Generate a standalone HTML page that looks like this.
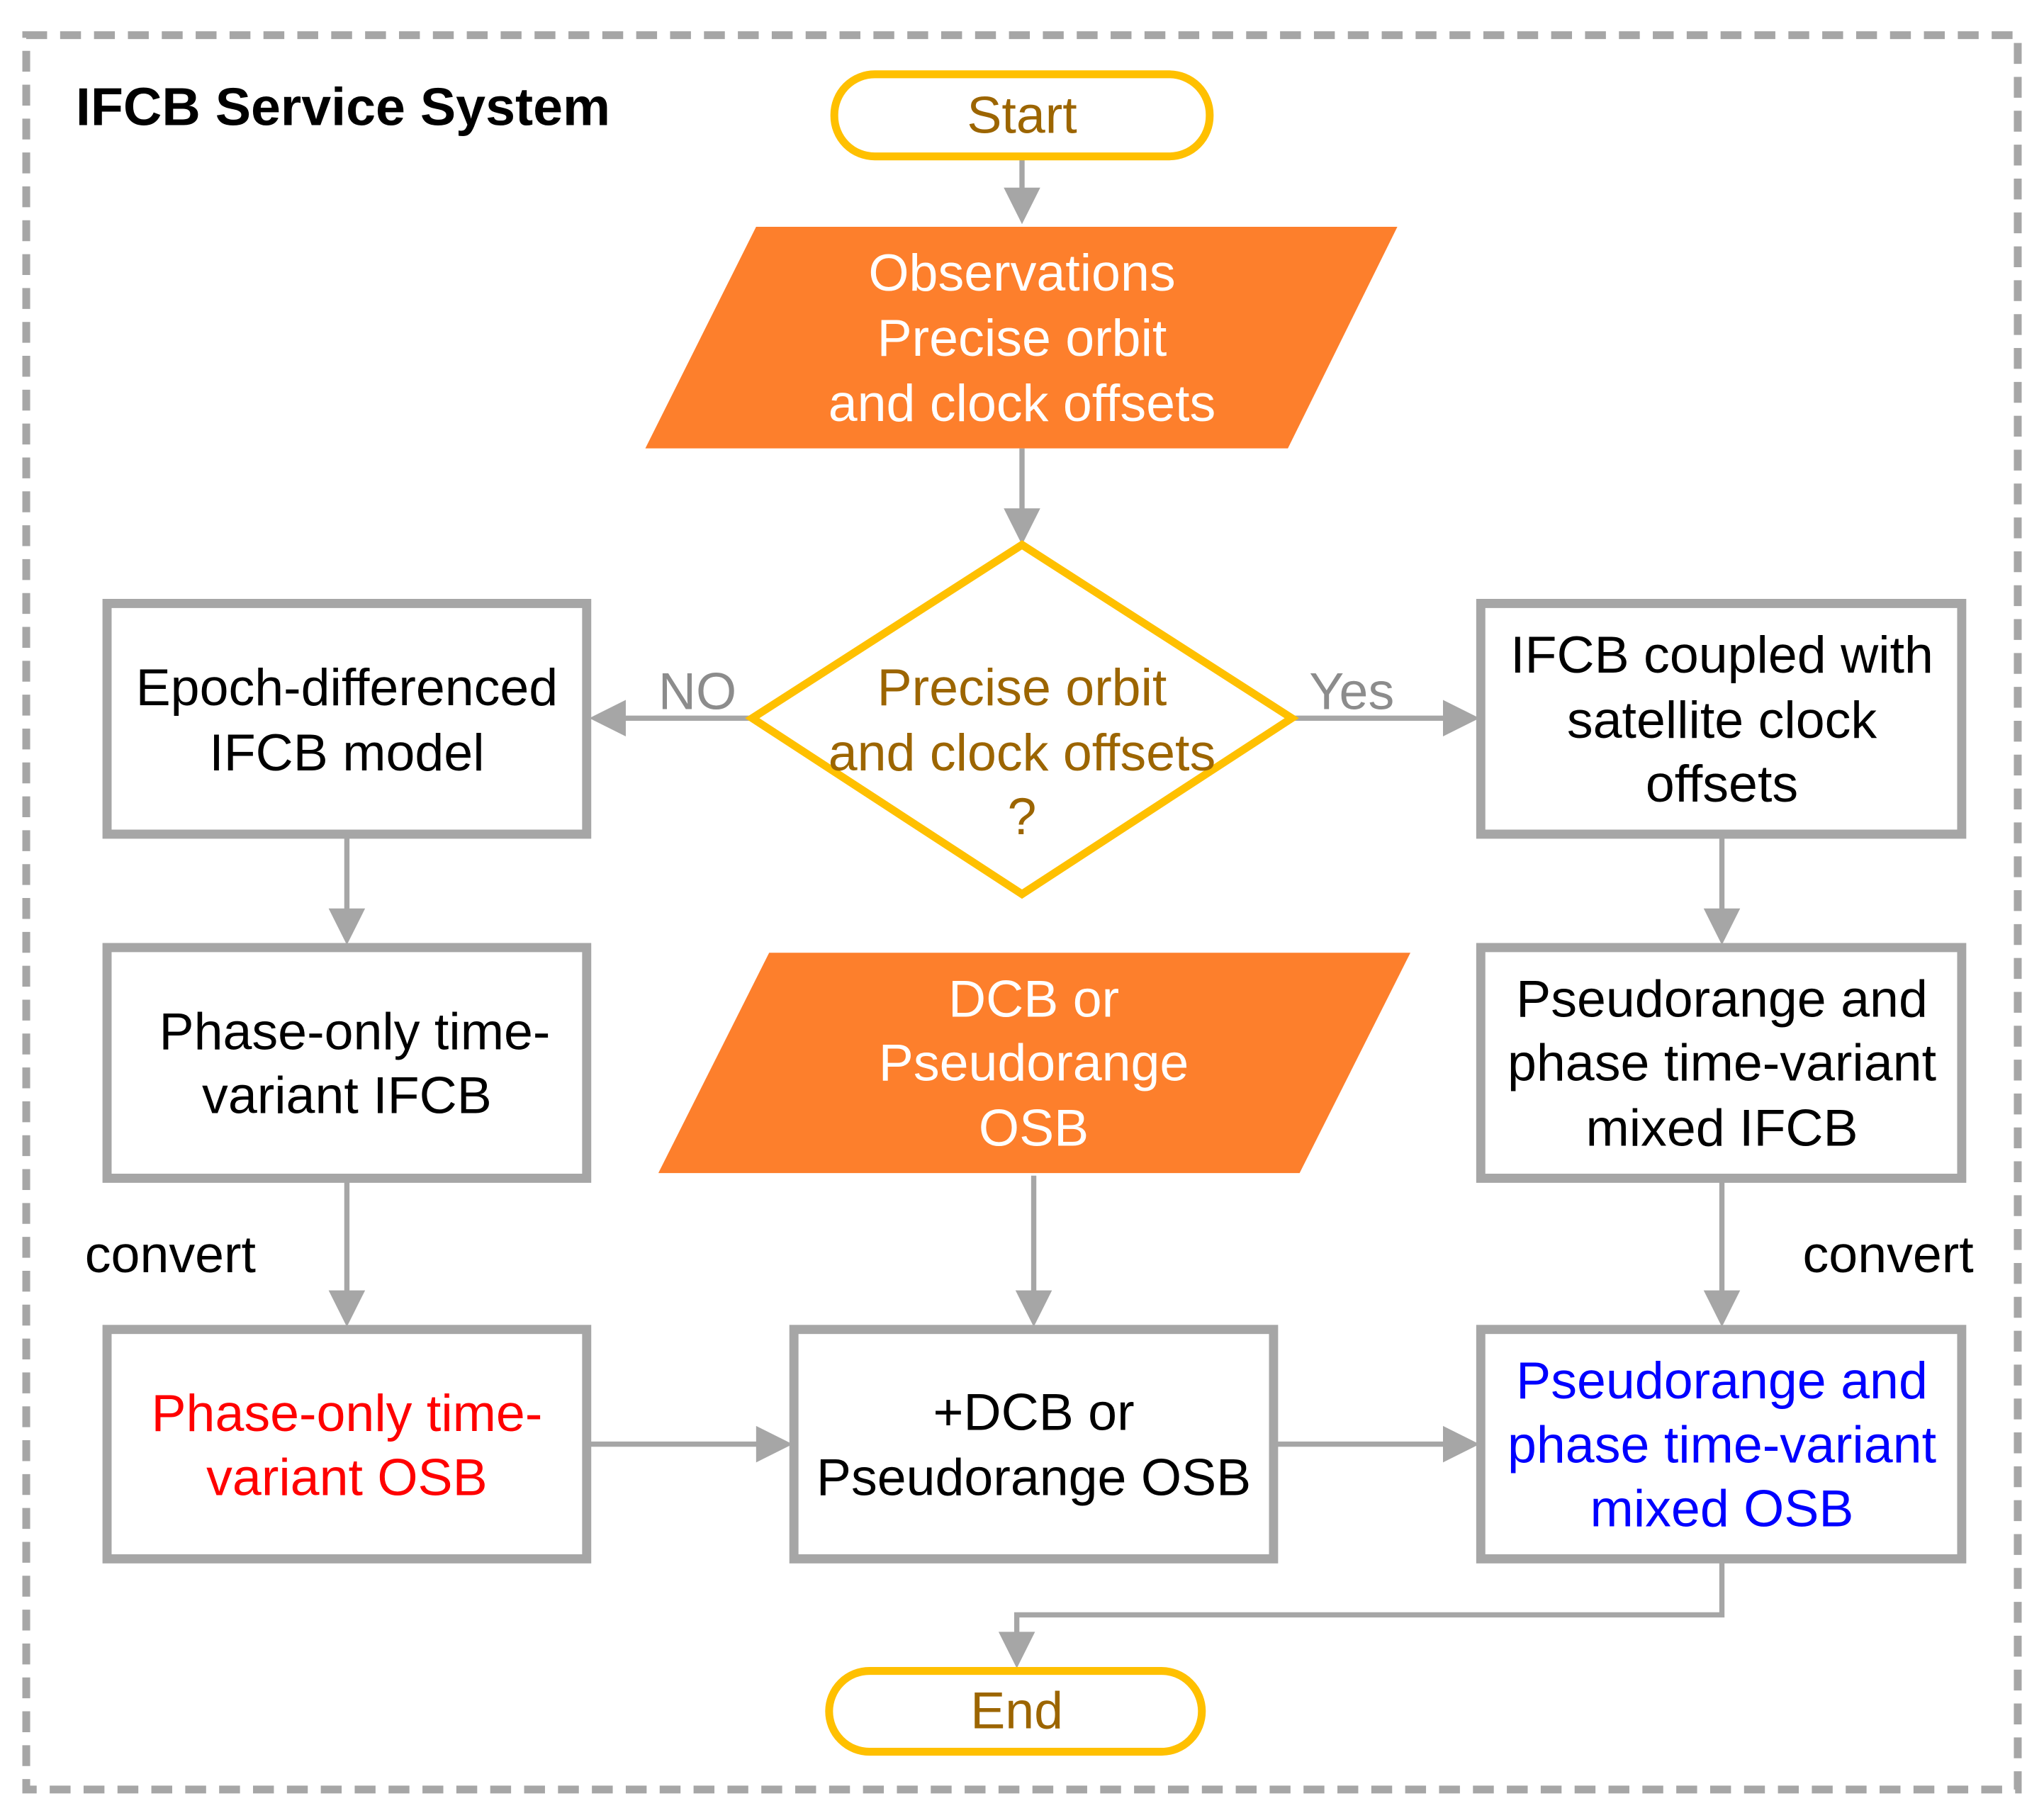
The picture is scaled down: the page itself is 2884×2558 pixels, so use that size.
<!DOCTYPE html>
<html><head><meta charset="utf-8"><style>
html,body{margin:0;padding:0;background:#fff;}
svg{display:block;}
text{font-family:"Liberation Sans",Arial,sans-serif;font-size:40px;text-anchor:middle;}
</style></head><body>
<svg width="2884" height="2558" viewBox="0 0 1568 1391" xmlns="http://www.w3.org/2000/svg">
<rect x="0" y="0" width="1568" height="1391" fill="#fff"/>
<rect x="20" y="27" width="1528" height="1346" fill="none" stroke="#A6A6A6" stroke-width="6" stroke-dasharray="16,10"/>
<text x="58" y="96" style="text-anchor:start;font-weight:bold;font-size:41px">IFCB Service System</text>

<g stroke="#A6A6A6" stroke-width="4" fill="none">
<line x1="784" y1="120" x2="784" y2="146"/>
<line x1="784" y1="344" x2="784" y2="392"/>
<line x1="577" y1="551" x2="478" y2="551"/>
<line x1="991" y1="551" x2="1108" y2="551"/>
<line x1="266" y1="642" x2="266" y2="698"/>
<line x1="1321" y1="642" x2="1321" y2="698"/>
<line x1="266" y1="906" x2="266" y2="991"/>
<line x1="793" y1="902" x2="793" y2="991"/>
<line x1="1321" y1="906" x2="1321" y2="991"/>
<line x1="452" y1="1108" x2="581" y2="1108"/>
<line x1="979" y1="1108" x2="1108" y2="1108"/>
<polyline points="1321,1198 1321,1239 780,1239 780,1253"/>
</g>
<g fill="#A6A6A6">
<polygon points="770,144 798,144 784,172"/>
<polygon points="770,390 798,390 784,418"/>
<polygon points="252,697 280,697 266,725"/>
<polygon points="1307,697 1335,697 1321,725"/>
<polygon points="252,990 280,990 266,1018"/>
<polygon points="779,990 807,990 793,1018"/>
<polygon points="1307,990 1335,990 1321,1018"/>
<polygon points="766,1252 794,1252 780,1280"/>
<polygon points="480,537 480,565 452,551"/>
<polygon points="1107,537 1107,565 1135,551"/>
<polygon points="580,1094 580,1122 608,1108"/>
<polygon points="1107,1094 1107,1122 1135,1108"/>
</g>

<rect x="640" y="57" width="288" height="63" rx="31" fill="#fff" stroke="#FFC000" stroke-width="6"/>
<text x="784" y="102" fill="#9C6500">Start</text>

<polygon points="580,174 1072,174 988,344 495,344" fill="#FD7F2C"/>
<text fill="#fff"><tspan x="784" y="223">Observations</tspan><tspan x="784" y="273">Precise orbit</tspan><tspan x="784" y="323">and clock offsets</tspan></text>

<polygon points="784,418 991,551 784,686 577,551" fill="#fff" stroke="#FFC000" stroke-width="6"/>
<text fill="#9C6500"><tspan x="784" y="541">Precise orbit</tspan><tspan x="784" y="591">and clock offsets</tspan><tspan x="784" y="640">?</tspan></text>
<text x="535" y="544" fill="#8C8C8C">NO</text>
<text x="1037" y="544" fill="#8C8C8C">Yes</text>

<g fill="#fff" stroke="#A6A6A6" stroke-width="7">
<rect x="82" y="463" width="368" height="177"/>
<rect x="1136" y="463" width="369" height="177"/>
<rect x="82" y="727" width="368" height="177"/>
<rect x="1136" y="727" width="369" height="177"/>
<rect x="82" y="1020" width="368" height="176"/>
<rect x="609" y="1020" width="368" height="176"/>
<rect x="1136" y="1020" width="369" height="176"/>
</g>
<text fill="#000"><tspan x="266" y="541">Epoch-differenced</tspan><tspan x="266" y="591">IFCB model</tspan></text>
<text fill="#000"><tspan x="1321" y="516">IFCB coupled with</tspan><tspan x="1321" y="566">satellite clock</tspan><tspan x="1321" y="615">offsets</tspan></text>
<text fill="#000"><tspan x="272" y="805">Phase-only time-</tspan><tspan x="266" y="854">variant IFCB</tspan></text>
<text fill="#000"><tspan x="1321" y="780">Pseudorange and</tspan><tspan x="1321" y="829">phase time-variant</tspan><tspan x="1321" y="879">mixed IFCB</tspan></text>

<polygon points="590,731 1082,731 997,900 505,900" fill="#FD7F2C"/>
<text fill="#fff"><tspan x="793" y="780">DCB or</tspan><tspan x="793" y="829">Pseudorange</tspan><tspan x="793" y="879">OSB</tspan></text>

<text x="65" y="976" style="text-anchor:start">convert</text>
<text x="1383" y="976" style="text-anchor:start">convert</text>

<text fill="#FF0000"><tspan x="266" y="1098">Phase-only time-</tspan><tspan x="266" y="1147">variant OSB</tspan></text>
<text fill="#000"><tspan x="793" y="1097">+DCB or</tspan><tspan x="793" y="1147">Pseudorange OSB</tspan></text>
<text fill="#0000FF"><tspan x="1321" y="1073">Pseudorange and</tspan><tspan x="1321" y="1122">phase time-variant</tspan><tspan x="1321" y="1171">mixed OSB</tspan></text>

<rect x="636" y="1282" width="286" height="62" rx="31" fill="#fff" stroke="#FFC000" stroke-width="6"/>
<text x="780" y="1326" fill="#9C6500">End</text>
</svg>
</body></html>
